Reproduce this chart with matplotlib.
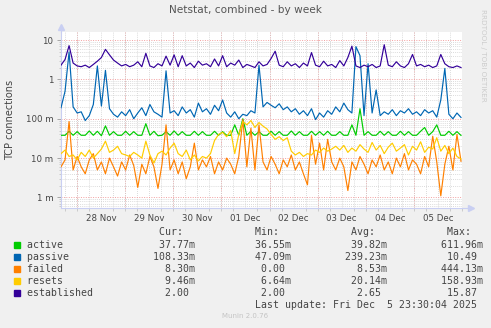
import pandas as pd
import matplotlib
matplotlib.use("Agg")
import matplotlib.pyplot as plt
import matplotlib.dates as mdates
from matplotlib.ticker import LogLocator, FuncFormatter, NullFormatter
from matplotlib.patches import Rectangle

# time span of the weekly graph
t_start = "2025-11-27 16:00"
t_end = "2025-12-05 23:30"

# values (TCP connections, 2h steps)
established = [2.3, 3.2, 7.2, 2.6, 2.2, 2.1, 2.3, 2.0, 2.4, 2.9, 3.6, 5.8, 4.2, 3.1, 2.6, 2.2,
               2.4, 2.1, 2.3, 2.8, 2.1, 4.6, 2.2, 2.0, 2.5, 2.2, 3.9, 2.3, 4.2, 2.1, 4.0, 2.2,
               2.6, 2.0, 2.9, 2.3, 2.5, 2.1, 3.3, 2.2, 4.0, 2.1, 2.6, 2.3, 3.1, 2.0, 2.4, 2.2,
               2.0, 2.8, 2.2, 2.4, 3.4, 5.2, 2.3, 2.1, 2.8, 2.2, 2.5, 2.0, 2.6, 2.2, 4.8, 2.3,
               2.1, 2.9, 2.2, 2.4, 2.0, 3.0, 2.2, 3.6, 7.0, 2.2, 2.0, 2.3, 2.1, 2.4, 2.0, 2.2,
               7.6, 2.3, 2.1, 2.8, 2.2, 2.0, 2.5, 4.3, 2.2, 2.4, 2.1, 2.3, 2.0, 2.2, 4.3, 2.5,
               2.1, 2.0, 2.2, 2.0]
passive = [0.19, 0.5, 5.0, 0.2, 0.14, 0.15, 0.09, 0.12, 0.23, 2.2, 0.21, 1.7, 0.18, 0.13, 0.11, 0.15,
           0.12, 0.17, 0.1, 0.14, 0.19, 0.12, 0.23, 0.15, 0.13, 0.11, 1.65, 0.14, 0.16, 0.12, 0.2, 0.14,
           0.17, 0.11, 0.25, 0.15, 0.18, 0.13, 0.22, 0.16, 0.3, 0.14, 0.11, 0.15, 0.1, 0.13, 0.12, 0.16,
           0.14, 2.3, 0.2, 0.26, 0.22, 0.19, 0.24, 0.17, 0.2, 0.15, 0.18, 0.13, 0.16, 0.12, 0.18, 0.095,
           0.14, 0.11, 0.16, 0.13, 0.2, 0.15, 0.25, 0.17, 0.14, 6.8, 4.0, 0.12, 2.5, 0.14, 0.54, 0.12,
           0.15, 0.13, 0.17, 0.12, 0.16, 0.14, 0.18, 0.13, 0.15, 0.12, 0.17, 0.14, 0.16, 0.11, 0.3, 1.9,
           0.13, 0.1, 0.14, 0.108]
active = [0.038, 0.038, 0.048, 0.038, 0.047, 0.038, 0.038, 0.049, 0.038, 0.048, 0.037, 0.066, 0.038, 0.047, 0.038, 0.038,
          0.048, 0.038, 0.047, 0.038, 0.038, 0.075, 0.038, 0.048, 0.037, 0.038, 0.047, 0.038, 0.049, 0.038, 0.047, 0.038,
          0.038, 0.048, 0.038, 0.047, 0.038, 0.038, 0.048, 0.038, 0.047, 0.038, 0.038, 0.07, 0.038, 0.1, 0.038, 0.048,
          0.038, 0.047, 0.038, 0.038, 0.048, 0.038, 0.047, 0.038, 0.038, 0.049, 0.038, 0.047, 0.038, 0.038, 0.048, 0.038,
          0.047, 0.038, 0.048, 0.038, 0.038, 0.047, 0.038, 0.038, 0.07, 0.038, 0.18, 0.038, 0.047, 0.038, 0.038, 0.048,
          0.038, 0.047, 0.038, 0.038, 0.048, 0.038, 0.047, 0.038, 0.038, 0.048, 0.06, 0.038, 0.047, 0.07, 0.038, 0.038,
          0.048, 0.038, 0.047, 0.0378]
failed = [0.006, 0.009, 0.085, 0.005, 0.011, 0.006, 0.004, 0.009, 0.013, 0.005, 0.008, 0.004, 0.01, 0.006, 0.0035, 0.008,
          0.005, 0.012, 0.0065, 0.0018, 0.007, 0.004, 0.011, 0.006, 0.0017, 0.007, 0.07, 0.005, 0.009, 0.004, 0.008, 0.003,
          0.006, 0.024, 0.005, 0.009, 0.006, 0.011, 0.004, 0.008, 0.005, 0.01, 0.007, 0.004, 0.011, 0.095, 0.006, 0.058,
          0.005, 0.07, 0.008, 0.005, 0.011, 0.007, 0.004, 0.009, 0.006, 0.012, 0.005, 0.008, 0.004, 0.0021, 0.038, 0.007,
          0.024, 0.005, 0.03, 0.008, 0.005, 0.01, 0.006, 0.0015, 0.008, 0.005, 0.011, 0.007, 0.004, 0.009, 0.006, 0.012,
          0.005, 0.008, 0.004, 0.01, 0.006, 0.013, 0.005, 0.009, 0.007, 0.004, 0.011, 0.006, 0.036, 0.008, 0.0011, 0.007,
          0.02, 0.005, 0.04, 0.0083]
resets = [0.013, 0.016, 0.011, 0.012, 0.009, 0.014, 0.011, 0.016, 0.01, 0.013, 0.017, 0.027, 0.014, 0.016, 0.02, 0.013,
          0.012, 0.011, 0.014, 0.012, 0.01, 0.027, 0.012, 0.0075, 0.013, 0.015, 0.012, 0.018, 0.024, 0.013, 0.011, 0.016,
          0.009, 0.012, 0.0085, 0.011, 0.01, 0.013, 0.028, 0.04, 0.045, 0.035, 0.05, 0.013, 0.04, 0.085, 0.07, 0.09,
          0.06, 0.08, 0.065, 0.055, 0.04, 0.03, 0.035, 0.028, 0.033, 0.015, 0.012, 0.014, 0.011, 0.013, 0.012, 0.016,
          0.014, 0.018, 0.015, 0.017, 0.02, 0.016, 0.021, 0.014, 0.018, 0.015, 0.022, 0.017, 0.014, 0.025, 0.016, 0.021,
          0.013, 0.019, 0.024, 0.015, 0.018, 0.022, 0.012, 0.02, 0.016, 0.026, 0.014, 0.019, 0.017, 0.033, 0.015, 0.021,
          0.013, 0.018, 0.011, 0.0095]

names = ["active", "passive", "failed", "resets", "established"]
colors = ["#00cc00", "#0066b3", "#ff8000", "#ffcc00", "#330099"]
cur = ["37.77m", "108.33m", "8.30m", "9.46m", "2.00 "]
mins = ["36.55m", "47.09m", "0.00 ", "6.64m", "2.00 "]
avgs = ["39.82m", "239.23m", "8.53m", "20.14m", "2.65 "]
maxs = ["611.96m", "10.49 ", "444.13m", "158.93m", "15.87 "]

times = pd.date_range(t_start, t_end, periods=len(established))
series = [active, passive, failed, resets, established]

W, H = 491, 328
fig = plt.figure(figsize=(W / 100, H / 100), dpi=100, facecolor="#f0f0f0")
ax = fig.add_axes([61 / W, 1 - 208 / H, 401 / W, 176 / H])
ax.set_facecolor("white")

for vals, c in zip(series, colors):
    ax.plot(times, vals, color=c, lw=0.85, zorder=3)

ax.set_yscale("log")
ax.set_ylim(0.00054, 16)
ax.set_xlim(pd.Timestamp("2025-11-27 16:00"), pd.Timestamp("2025-12-06 00:00"))


def yfmt(v, pos):
    if v >= 1:
        return f"{v:g}"
    return f"{v * 1000:g} m"


ax.yaxis.set_major_locator(LogLocator(base=10, numticks=10))
ax.yaxis.set_minor_locator(LogLocator(base=10, subs=range(2, 10), numticks=20))
ax.yaxis.set_major_formatter(FuncFormatter(yfmt))
ax.yaxis.set_minor_formatter(NullFormatter())

ax.xaxis.set_major_locator(mdates.HourLocator(byhour=[12]))
ax.xaxis.set_minor_locator(mdates.HourLocator(byhour=[0, 6, 18]))
ax.xaxis.set_major_formatter(mdates.DateFormatter("%d %b"))

red = "#f2a0a0"
grey = "#cfcfcf"
ax.grid(which="major", axis="y", color=red, lw=0.7, linestyle=(0, (1, 1.5)), zorder=1)
ax.grid(which="minor", axis="y", color=grey, lw=0.6, linestyle=(0, (1, 1.5)), zorder=1)
ax.grid(which="both", axis="x", color=grey, lw=0.6, linestyle=(0, (1, 1.5)), zorder=1)
for d in pd.date_range("2025-11-28", "2025-12-06", freq="D"):
    ax.axvline(d, color=red, lw=0.7, linestyle=(0, (1, 1.5)), zorder=1)

ax.tick_params(axis="y", which="major", labelsize=6.2, labelcolor="#444444", length=3,
               width=0.6, color="#999999", pad=2.5)
ax.tick_params(axis="y", which="minor", length=1.5, width=0.5, color="#bbbbbb")
ax.tick_params(axis="x", which="major", labelsize=6.2, labelcolor="#444444", length=0, pad=4)
ax.tick_params(axis="x", which="minor", length=2, width=0.5, color="#bbbbbb")

for s in ["top", "right"]:
    ax.spines[s].set_visible(False)
axis_col = "#c9cff2"
ax.spines["left"].set_color(axis_col)
ax.spines["bottom"].set_color(axis_col)
ax.plot([0, 0], [1, 1.025], color=axis_col, lw=0.8, transform=ax.transAxes, clip_on=False)
ax.plot([1, 1.02], [0, 0], color=axis_col, lw=0.8, transform=ax.transAxes, clip_on=False)
ax.plot([0], [1.03], marker="^", ms=4, color=axis_col, transform=ax.transAxes, clip_on=False)
ax.plot([1.022], [0], marker=">", ms=4, color=axis_col, transform=ax.transAxes, clip_on=False)

fig.text(245 / W, 1 - 10 / H, "Netstat, combined - by week", ha="center", va="center",
         fontsize=7.6, color="#555555")
fig.text(10 / W, 1 - 120 / H, "TCP connections", rotation=90, ha="center", va="center",
         fontsize=7, color="#444444")
fig.text(483 / W, 1 - 55 / H, "RRDTOOL / TOBI OETIKER", rotation=-90, ha="center", va="center",
         fontsize=5.2, color="#cccccc")

mono = "DejaVu Sans Mono"
fs = 7.1
header = " " * 22 + "Cur:" + " " * 12 + "Min:" + " " * 12 + "Avg:" + " " * 12 + "Max:"
fig.text(27 / W, 1 - 232 / H, header, family=mono, fontsize=fs, color="#444444", va="center")
for k, name in enumerate(names):
    yc = 244.5 + 12 * k
    row = f"{name:<21}{cur[k]:>7}{mins[k]:>16}{avgs[k]:>16}{maxs[k]:>16}"
    fig.text(27 / W, 1 - yc / H, row, family=mono, fontsize=fs, color="#444444", va="center")
    fig.patches.append(Rectangle((14 / W, 1 - (yc + 3) / H), 6 / W, 6 / H,
                                 transform=fig.transFigure, color=colors[k]))
fig.text(477 / W, 1 - 304.5 / H, "Last update: Fri Dec  5 23:30:04 2025", family=mono,
         fontsize=fs, color="#444444", va="center", ha="right")
fig.text(245 / W, 1 - 316 / H, "Munin 2.0.76", fontsize=5, color="#c4c4c4", ha="center", va="center")

fig.savefig("out.png", dpi=100, facecolor=fig.get_facecolor())
